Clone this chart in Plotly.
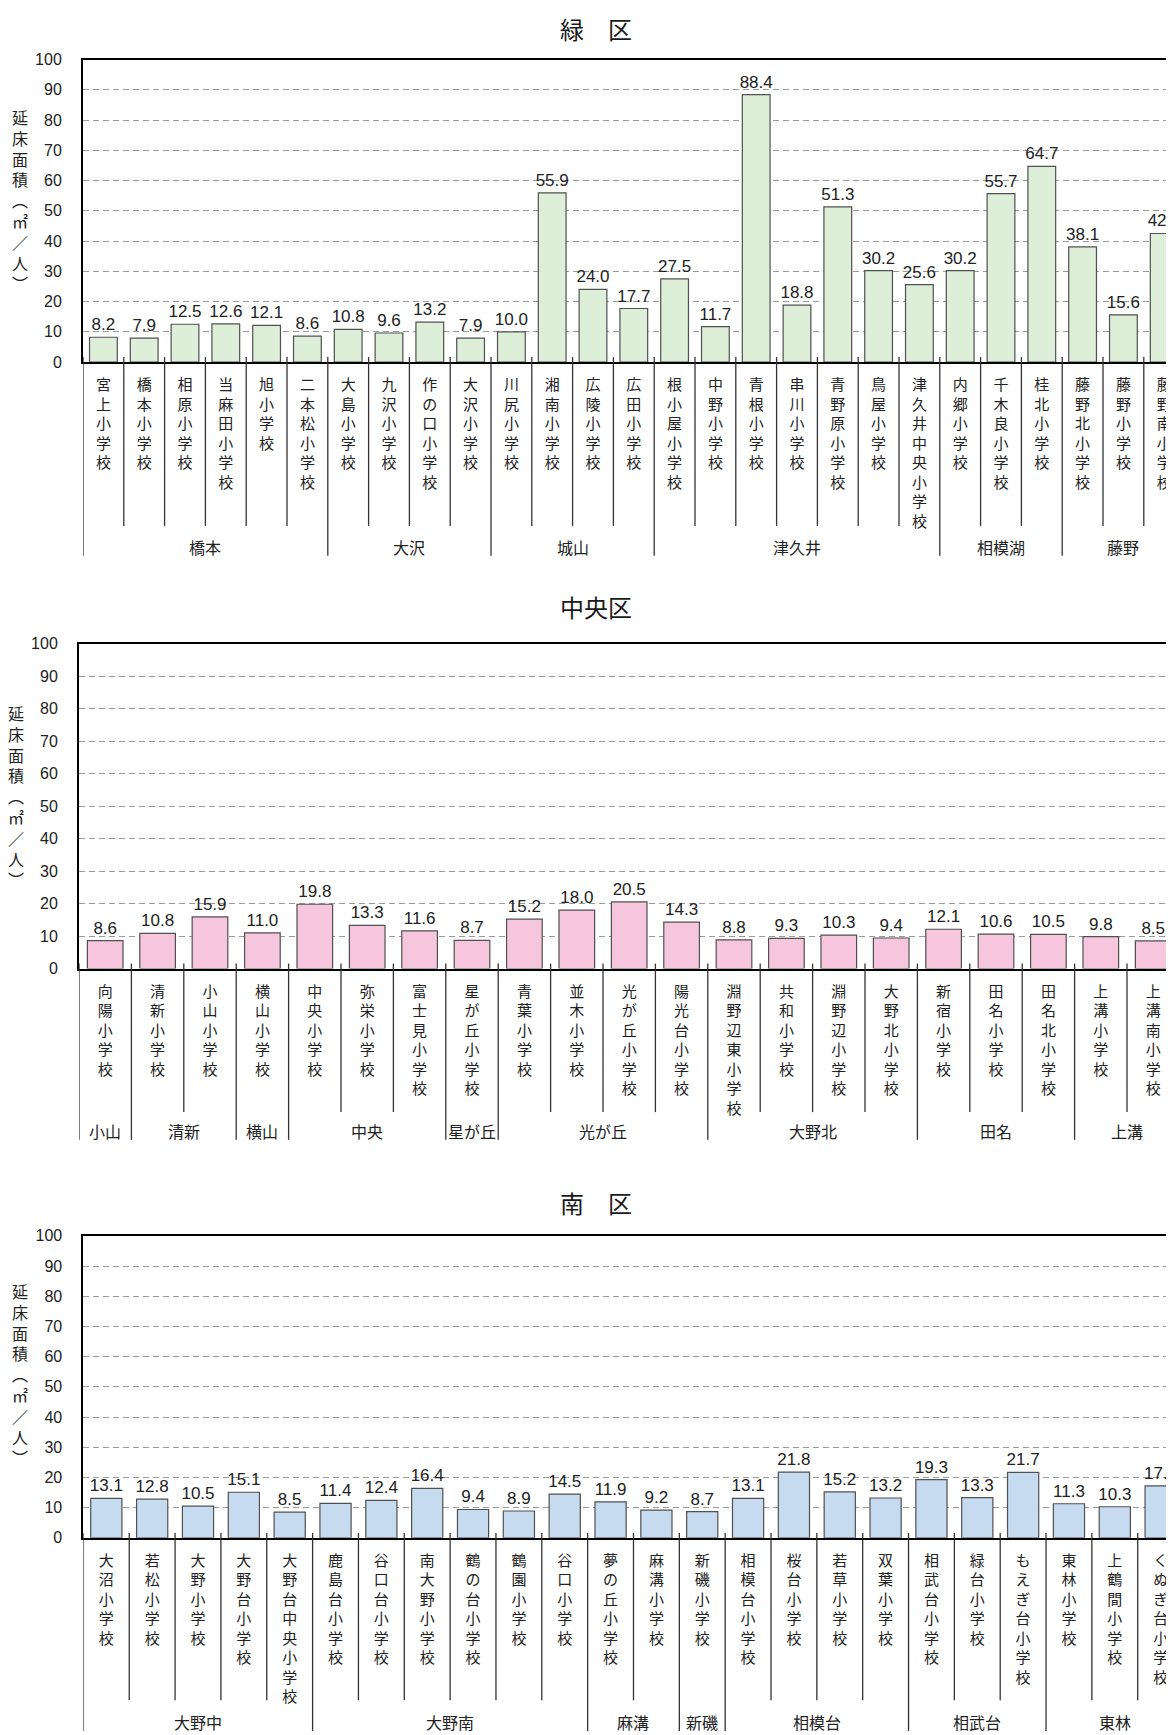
import plotly.graph_objects as go

# ---------------- data ----------------
midori_schools = [
    "宮上小学校", "橋本小学校", "相原小学校", "当麻田小学校", "旭小学校", "二本松小学校",
    "大島小学校", "九沢小学校", "作の口小学校", "大沢小学校",
    "川尻小学校", "湘南小学校", "広陵小学校", "広田小学校",
    "根小屋小学校", "中野小学校", "青根小学校", "串川小学校", "青野原小学校", "鳥屋小学校", "津久井中央小学校",
    "内郷小学校", "千木良小学校", "桂北小学校",
    "藤野北小学校", "藤野小学校", "藤野南小学校",
]
midori_values = [8.2, 7.9, 12.5, 12.6, 12.1, 8.6, 10.8, 9.6, 13.2, 7.9, 10.0, 55.9, 24.0, 17.7,
                 27.5, 11.7, 88.4, 18.8, 51.3, 30.2, 25.6, 30.2, 55.7, 64.7, 38.1, 15.6, 42.5]
midori_groups = ["橋本", "大沢", "城山", "津久井", "相模湖", "藤野"]
midori_group_sizes = [6, 4, 4, 7, 3, 3]

chuo_schools = [
    "向陽小学校", "清新小学校", "小山小学校", "横山小学校", "中央小学校", "弥栄小学校", "富士見小学校",
    "星が丘小学校", "青葉小学校", "並木小学校", "光が丘小学校", "陽光台小学校",
    "淵野辺東小学校", "共和小学校", "淵野辺小学校", "大野北小学校",
    "新宿小学校", "田名小学校", "田名北小学校", "上溝小学校", "上溝南小学校",
]
chuo_values = [8.6, 10.8, 15.9, 11.0, 19.8, 13.3, 11.6, 8.7, 15.2, 18.0, 20.5, 14.3,
               8.8, 9.3, 10.3, 9.4, 12.1, 10.6, 10.5, 9.8, 8.5]
chuo_groups = ["小山", "清新", "横山", "中央", "星が丘", "光が丘", "大野北", "田名", "上溝"]
chuo_group_sizes = [1, 2, 1, 3, 1, 4, 4, 3, 2]

minami_schools = [
    "大沼小学校", "若松小学校", "大野小学校", "大野台小学校", "大野台中央小学校",
    "鹿島台小学校", "谷口台小学校", "南大野小学校", "鶴の台小学校", "鶴園小学校", "谷口小学校",
    "夢の丘小学校", "麻溝小学校", "新磯小学校",
    "相模台小学校", "桜台小学校", "若草小学校", "双葉小学校",
    "相武台小学校", "緑台小学校", "もえぎ台小学校",
    "東林小学校", "上鶴間小学校", "くぬぎ台小学校",
]
minami_values = [13.1, 12.8, 10.5, 15.1, 8.5, 11.4, 12.4, 16.4, 9.4, 8.9, 14.5, 11.9, 9.2, 8.7,
                 13.1, 21.8, 15.2, 13.2, 19.3, 13.3, 21.7, 11.3, 10.3, 17.2]
minami_groups = ["大野中", "大野南", "麻溝", "新磯", "相模台", "相武台", "東林"]
minami_group_sizes = [5, 6, 2, 1, 4, 3, 3]

y_title = "延床面積（㎡／人）"

# ---------------- layout ----------------
# positions below are window pixels; the page body keeps its default 8px margin
PAGE_W, PAGE_H, BODY = 1174, 1735, 8
W, H = PAGE_W - BODY, PAGE_H - BODY
JP = "Noto Sans CJK JP, sans-serif"
NUM = "Liberation Sans, Arial, sans-serif"

panels = [
    dict(title="緑　区", schools=midori_schools, values=midori_values,
         groups=midori_groups, sizes=midori_group_sizes, color="#DDEFD9",
         top=52, bottom=357.5, left=83, cat_w=40.8, title_y=21,
         ytitle_x=20, ytitle_y=194, short_end=523, long_end=553, group_y=544),
    dict(title="中央区", schools=chuo_schools, values=chuo_values,
         groups=chuo_groups, sizes=chuo_group_sizes, color="#F6C6DC",
         top=642, bottom=970, left=79, cat_w=52.4, title_y=604,
         ytitle_x=16, ytitle_y=796, short_end=1115, long_end=1143, group_y=1134),
    dict(title="南　区", schools=minami_schools, values=minami_values,
         groups=minami_groups, sizes=minami_group_sizes, color="#C6DBF0",
         top=1240, bottom=1545, left=83.4, cat_w=45.84, title_y=1206,
         ytitle_x=20, ytitle_y=1380, short_end=1709, long_end=1740, group_y=1731),
]


def px_x(x):
    return (x - BODY) / W


def px_y(y):
    return 1 - (y - BODY) / H


def vertical(text):
    return "<br>".join(text)


fig = go.Figure()
shapes, annotations, axes = [], [], {}
vert_title = "<br>".join(y_title.replace("（", "︵").replace("）", "︶"))

for i, p in enumerate(panels, start=1):
    sfx = "" if i == 1 else str(i)
    xa, ya = "x" + sfx, "y" + sfx
    n = len(p["values"])
    idx = list(range(n))

    fig.add_trace(go.Bar(
        x=idx, y=p["values"], xaxis=xa, yaxis=ya,
        marker=dict(color=p["color"], line=dict(color="#505050", width=1.2)),
        text=[f"{v:.1f}" for v in p["values"]],
        textposition="outside", constraintext="none", cliponaxis=False,
        textfont=dict(family=NUM, size=17, color="#222"),
        showlegend=False, hoverinfo="x+y",
    ))

    axes["xaxis" + sfx] = dict(
        domain=[px_x(p["left"]), 1], anchor=ya,
        range=[-0.5, -0.5 + (PAGE_W - p["left"]) / p["cat_w"]],
        tickmode="array", tickvals=idx, ticktext=[vertical(s) for s in p["schools"]],
        tickangle=0, ticks="", ticklabelstandoff=8,
        tickfont=dict(family=JP, size=15, color="#222"),
        showline=True, mirror=True, linecolor="black", linewidth=2,
        showgrid=False, zeroline=False, fixedrange=True,
    )
    axes["yaxis" + sfx] = dict(
        domain=[px_y(p["bottom"]), px_y(p["top"])], anchor=xa,
        range=[0, 100], tick0=0, dtick=10, ticks="", ticklabelstandoff=16,
        tickfont=dict(family=NUM, size=16, color="#222"),
        showline=True, linecolor="black", linewidth=2,
        showgrid=True, gridcolor="#9a9a9a", gridwidth=1, griddash="6px,4px",
        zeroline=False, fixedrange=True,
    )

    # separators under the category axis
    bounds = [0]
    for s in p["sizes"]:
        bounds.append(bounds[-1] + s)
    for b in range(n + 1):
        end = p["long_end"] if b in bounds else p["short_end"]
        shapes.append(dict(type="line", xref=xa, yref="paper",
                           x0=b - 0.5, x1=b - 0.5,
                           y0=px_y(p["bottom"] - 5), y1=px_y(end),
                           line=dict(color="#333", width=1.3)))

    # group labels
    for g, start, size in zip(p["groups"], bounds[:-1], p["sizes"]):
        annotations.append(dict(text=g, xref=xa, yref="paper",
                                x=start + (size - 1) / 2, y=px_y(p["group_y"]),
                                showarrow=False, xanchor="center", yanchor="middle",
                                font=dict(family=JP, size=16, color="#222")))

    # district title
    annotations.append(dict(text=p["title"], xref="paper", yref="paper",
                            x=px_x(596), y=px_y(p["title_y"]), showarrow=False,
                            xanchor="center", yanchor="middle",
                            font=dict(family=JP, size=24, color="#1a1a1a")))
    # vertical y-axis title
    annotations.append(dict(text=vert_title, xref="paper", yref="paper",
                            x=px_x(p["ytitle_x"]), y=px_y(p["ytitle_y"]), showarrow=False,
                            xanchor="center", yanchor="middle",
                            font=dict(family=JP, size=16, color="#222")))

fig.update_layout(
    width=W, height=H,
    margin=dict(l=0, r=0, t=0, b=0),
    plot_bgcolor="white", paper_bgcolor="white",
    bargap=0.32, showlegend=False,
    shapes=shapes, annotations=annotations,
    **axes,
)

fig.write_html("out.html")
